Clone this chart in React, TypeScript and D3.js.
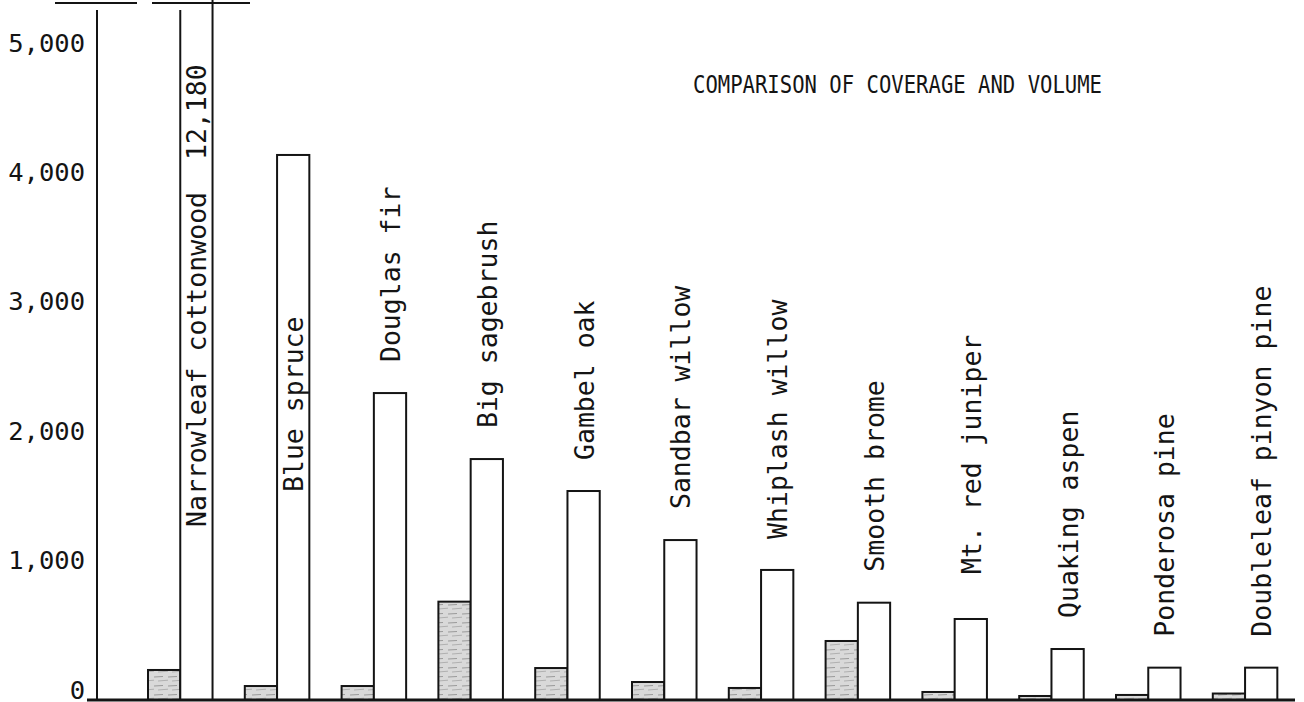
import React from "react";
import * as d3 from "d3";

const species = [
  "Narrowleaf cottonwood",
  "Blue spruce",
  "Douglas fir",
  "Big sagebrush",
  "Gambel oak",
  "Sandbar willow",
  "Whiplash willow",
  "Smooth brome",
  "Mt. red juniper",
  "Quaking aspen",
  "Ponderosa pine",
  "Doubleleaf pinyon pine",
];
const coverage = [232, 108, 108, 760, 247, 139, 93, 456, 62, 31, 39, 50];
const volume = [12180, 4212, 2372, 1862, 1615, 1236, 1005, 752, 626, 394, 250, 250];
const yTicks = [0, 1000, 2000, 3000, 4000, 5000];
const title = "COMPARISON OF COVERAGE AND VOLUME";

const W = 1304;
const H = 702;
const FONT = "'DejaVu Sans Mono', 'Liberation Mono', monospace";
const INK = "#141414";

export default function App() {
  const y = d3.scaleLinear().domain([0, 5000]).range([700, 53]);
  const x = d3
    .scaleBand<string>()
    .domain(species)
    .range([148, 148 + species.length * 96.8])
    .padding(0);
  const bw = x.bandwidth() / 3;
  const fmt = d3.format(",");
  const topY = 10;

  return (
    <svg
      width={W}
      height={H}
      viewBox={`0 0 ${W} ${H}`}
      style={{ position: "absolute", left: 0, top: 0, background: "#fff" }}
    >
      <defs>
        <pattern id="pencil" width="14" height="9" patternUnits="userSpaceOnUse">
          <rect width="14" height="9" fill="#d9d9d9" />
          <path d="M0 2 L9 1.5" stroke="#9a9a9a" strokeWidth="1.2" />
          <path d="M4 6 L14 5.2" stroke="#b0b0b0" strokeWidth="1" />
        </pattern>
        <clipPath id="plotClip">
          <rect x={0} y={topY} width={W} height={H - topY} />
        </clipPath>
      </defs>
      <rect width={W} height={H} fill="#fff" />

      {/* remnants of page rules at top */}
      <line x1={55} x2={137} y1={3} y2={3} stroke={INK} strokeWidth={2} />
      <line x1={152} x2={250} y1={3} y2={3} stroke={INK} strokeWidth={2} />

      {/* title */}
      <text
        x={693}
        y={93}
        fontFamily={FONT}
        fontSize={24}
        fill={INK}
        textLength={409}
        lengthAdjust="spacingAndGlyphs"
      >
        {title}
      </text>

      {/* y axis */}
      <line x1={97} x2={97} y1={topY} y2={700} stroke={INK} strokeWidth={2} />
      {yTicks.map((t) => (
        <text
          key={t}
          x={85}
          y={y(t) - 1.5}
          textAnchor="end"
          fontFamily={FONT}
          fontSize={25.5}
          fill={INK}
        >
          {fmt(t)}
        </text>
      ))}

      {/* bars */}
      <g clipPath="url(#plotClip)">
        {species.map((s, i) => {
          const x0 = x(s) as number;
          const yc = y(coverage[i]);
          const yv = Math.max(y(volume[i]), topY - 20);
          return (
            <g key={s}>
              <rect
                x={x0}
                y={yc}
                width={bw}
                height={700 - yc}
                fill="url(#pencil)"
                stroke={INK}
                strokeWidth={2}
              />
              <rect
                x={x0 + bw}
                y={yv}
                width={bw}
                height={700 - yv}
                fill="#fff"
                stroke={INK}
                strokeWidth={2}
              />
            </g>
          );
        })}
      </g>
      <line
        x1={(x(species[0]) as number) + 2 * bw}
        x2={(x(species[0]) as number) + 2 * bw}
        y1={0}
        y2={topY}
        stroke={INK}
        strokeWidth={2}
      />

      {/* species labels */}
      {species.map((s, i) => {
        const cx = (x(s) as number) + 1.5 * bw;
        let start: number;
        let label = s;
        if (i === 0) {
          start = 527;
          label = `${s}  ${fmt(volume[0])}`;
        } else if (i === 1) {
          start = 492;
        } else {
          start = y(volume[i]) - (s.startsWith("Mt.") ? 45 : 31);
        }
        return (
          <text
            key={s}
            transform={`translate(${cx + 10},${start}) rotate(-90)`}
            fontFamily={FONT}
            fontSize={26.5}
            fill={INK}
            style={{ whiteSpace: "pre" }}
          >
            {label}
          </text>
        );
      })}

      {/* baseline */}
      <line x1={87} x2={1295} y1={700} y2={700} stroke={INK} strokeWidth={3} />
    </svg>
  );
}
